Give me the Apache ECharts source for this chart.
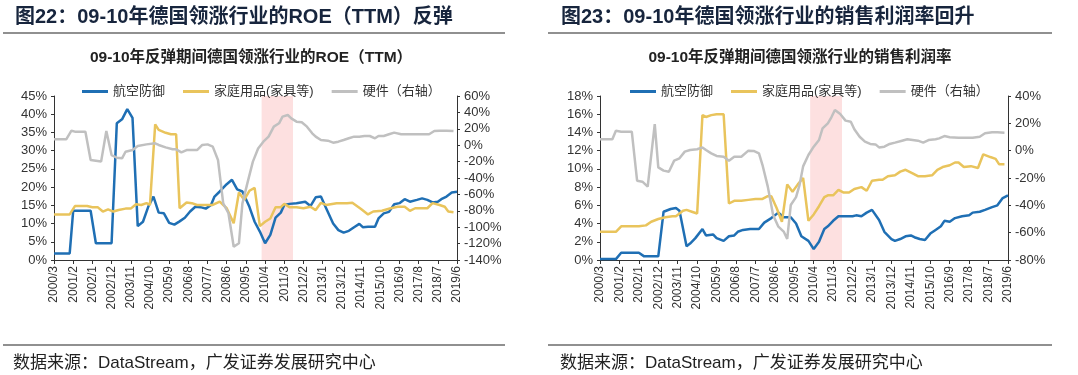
<!DOCTYPE html>
<html>
<head>
<meta charset="utf-8">
<script src="https://cdn.jsdelivr.net/npm/echarts@6/dist/echarts.min.js"></script>
<style>
  html, body { margin: 0; padding: 0; background: #fff; }
  #main { width: 1078px; height: 375px; }
</style>
</head>
<body>
<div id="main"></div>
<script>
// x positions are months counted from 2000/3 (0) to 2019/6 (231)
const tickLabels = ['2000/3','2001/2','2002/1','2002/12','2003/11','2004/10','2005/9','2006/8','2007/7','2008/6','2009/5',
  '2010/4','2011/3','2012/2','2013/1','2013/12','2014/11','2015/10','2016/9','2017/8','2018/7','2019/6'];
const seriesNames = ['航空防御', '家庭用品(家具等)', '硬件（右轴）'];
// rebound period shading, in months from 2000/3
const bandMonths = [119, 137];

// 图22: ROE (TTM)
const roeDefense = [[0,1.8],[9,1.8],[11,13.5],[21,13.5],[24,4.6],[33,4.6],[36,37.5],[39,38.6],[42,41.4],[45,39],[48,9.3],[51,10.5],
  [54,14.6],[57,17.4],[60,13],[63,12.8],[66,10.2],[69,9.7],[72,10.6],[75,11.6],[78,13.3],[81,14.6],[84,14.5],[87,14.1],[90,15.1],
  [92,17.4],[95,18.8],[99,20.8],[102,22],[105,19.4],[108,18.8],[112,14.6],[115,10.5],[118,7.8],[121,4.6],[124,6.9],[127,11.6],
  [130,13],[132,15.1],[135,15.4],[139,15.6],[144,16],[147,14.8],[150,17.2],[153,17.4],[156,14.2],[160,10],[163,8.2],[166,7.5],
  [169,8],[172,9],[175,9.9],[177,9],[180,9.1],[184,9.1],[186,11.4],[189,12.8],[192,13.2],[195,15.3],[198,15.6],[201,16.7],[204,16],
  [208,16.5],[211,16.9],[214,16.5],[217,15.8],[220,16],[222,16.7],[225,17.4],[228,18.5],[231,18.7]];
const roeHome = [[0,12.5],[9,12.5],[12,14.8],[19,14.8],[22,14.5],[25,14.5],[28,13.3],[31,13.9],[34,13.3],[37,13.7],[41,14.1],[44,14.1],
  [47,15.3],[50,15.1],[53,15.6],[55,15.1],[58,37.2],[60,35.7],[64,34.9],[67,34.5],[70,34.5],[72,14.2],[76,15.8],[79,15.6],[82,15.1],
  [87,15.1],[91,15.1],[95,16],[99,14.2],[103,10.1],[106,18.5],[109,16.5],[112,19],[115,19.8],[118,9.3],[121,10.5],[124,11.4],
  [127,14.5],[130,14.5],[132,15.4],[135,14.5],[139,14.5],[143,14.2],[147,14.6],[150,13.7],[153,15.7],[156,15.1],[162,15.6],
  [168,15.6],[171,15.7],[176,14],[180,12.5],[183,13.3],[188,13.5],[193,14.2],[197,14.6],[201,14.6],[204,13.5],[207,14.2],
  [214,14.2],[217,15.6],[221,15.1],[224,14.6],[226,13.3],[229,13.1]];
const roeHardware = [[0,7.2],[7,7.2],[10,17.7],[12,16.5],[18,16.5],[21,-18],[24,-19],[27,-20],[30,17.3],[33,-12],[36,-15.2],[39,-16],
  [41,-8],[45,-5.9],[48,-1],[53,1],[58,2.3],[60,0.3],[64,-2.6],[68,-5],[70,-5],[73,-8.7],[76,-5.9],[82,-5.9],[85,0.3],[88,1],
  [91,-1.7],[94,-18],[97,-70.9],[100,-83],[103,-123.8],[106,-119.6],[108,-71],[111,-45],[114,-20],[117,-4],[120,4.3],[123,10.4],
  [126,22.6],[129,26.7],[131,34.8],[134,36.8],[136,32.7],[139,28.7],[142,28],[145,22.6],[148,14.5],[150,10.4],[153,6.3],[157,5.5],
  [160,3.1],[163,4.3],[166,6.3],[169,8.4],[172,10.4],[175,10.4],[178,11.2],[181,11.2],[184,8.4],[186,11.2],[189,11.2],[192,13.3],
  [195,15.3],[199,13.3],[203,13.3],[207,13.3],[211,13.3],[215,13.3],[218,17.3],[221,17.7],[225,17.7],[229,17.3]];

// 图23: 销售利润率
const mgnDefense = [[0,0.1],[9,0.1],[12,0.8],[22,0.8],[25,0.4],[33,0.4],[36,5.3],[40,5.6],[43,5.7],[45,5.4],[49,1.5],[51,1.8],[54,2.4],
  [58,3.4],[60,2.7],[64,2.8],[66,2.4],[70,2.1],[73,2.6],[76,2.7],[78,3.1],[81,3.3],[85,3.4],[90,3.4],[93,4.1],[97,4.6],[101,5.2],
  [104,4.7],[108,4.7],[111,4.0],[114,2.6],[118,2.1],[121,1.2],[124,2.0],[127,3.4],[129,3.7],[132,4.3],[135,4.8],[139,4.8],[143,4.8],
  [145,4.9],[148,4.8],[151,5.2],[154,5.5],[158,4.4],[161,3.1],[165,2.3],[167,2.1],[170,2.3],[173,2.6],[176,2.7],[178,2.5],[181,2.3],
  [184,2.2],[187,2.9],[190,3.3],[193,3.7],[195,4.3],[198,4.2],[201,4.6],[205,4.8],[209,4.9],[211,5.2],[215,5.3],[218,5.5],[222,5.8],
  [225,6.0],[228,6.8],[231,7.1]];
const mgnHome = [[0,3.1],[9,3.1],[12,3.7],[22,3.7],[26,3.8],[29,4.2],[33,4.5],[37,4.7],[41,4.8],[43,4.8],[47,5.4],[49,5.5],[52,5.3],
  [55,5.1],[58,15.9],[60,15.7],[63,15.9],[66,16],[70,16],[73,6.2],[76,6.5],[80,6.5],[84,6.6],[88,6.7],[92,6.7],[95,7.0],[97,7.0],
  [100,5.7],[103,4.2],[106,8.3],[109,7.5],[112,8.3],[115,9.0],[118,4.3],[121,5.0],[124,5.9],[127,6.9],[129,7.1],[132,7.1],[135,7.7],
  [138,7.4],[141,7.4],[144,7.8],[148,8.0],[151,7.6],[154,8.7],[158,8.8],[160,8.8],[163,9.2],[167,9.3],[170,9.7],[173,9.9],[177,9.5],
  [180,9.2],[184,9.2],[188,9.3],[191,9.9],[194,10.2],[198,10.4],[201,10.7],[203,10.7],[206,10.2],[210,10.3],[214,10.1],[217,11.6],
  [221,11.3],[224,11.1],[226,10.5],[229,10.5]];
const mgnHardware = [[0,8.3],[7,8.3],[9,14.6],[12,13.9],[18,13.9],[21,-22],[24,-22.7],[27,-26.3],[31,19.5],[33,-12.2],[36,-14.6],
  [39,-15.4],[42,-7.3],[45,-5.6],[48,-0.7],[51,0.5],[55,1],[58,2.4],[60,0.5],[63,-2],[66,-3.9],[70,-4.4],[73,-7.3],[76,-4.4],[80,-4.4],
  [84,0],[87,-0.2],[90,-2],[92,-10.5],[95,-26.3],[98,-47],[101,-55.6],[104,-59.2],[106,-64.6],[108,-39.8],[111,-34],[113,-25],
  [115,-11.5],[118,-3.2],[121,2.9],[124,7.8],[126,16.3],[129,20],[131,24.4],[133,29.8],[136,26.8],[139,22],[142,21.2],[144,15.6],
  [147,10.2],[150,6.6],[153,4.9],[156,4.6],[158,2.4],[161,2.9],[164,4.9],[167,5.9],[171,7.3],[174,8.3],[177,7.8],[180,7.3],[183,5.9],
  [186,7.8],[190,8.3],[192,9],[195,10.7],[198,9.8],[203,9.5],[207,9.5],[211,9.5],[215,10.2],[218,12.7],[222,13.4],[225,13.4],[229,13.2]];

const FONT = "'Liberation Sans', 'Noto Sans CJK SC', sans-serif";
const colors = ['#1f6fb4', '#e9c45c', '#c0c0c0'];
const axisColor = '#333';

function xAxisFor(gridIndex) {
  return {
    type: 'value', gridIndex: gridIndex, min: 0, max: 231, interval: 11,
    axisLine: { show: true, lineStyle: { color: axisColor } },
    axisTick: { show: true, length: 4, lineStyle: { color: axisColor } },
    splitLine: { show: false },
    axisLabel: {
      rotate: 90, fontSize: 12, color: axisColor, fontFamily: FONT, margin: 6,
      formatter: function (v) { return tickLabels[Math.round(v / 11)] || ''; }
    }
  };
}

function yAxisFor(gridIndex, side, min, max, interval) {
  return {
    type: 'value', gridIndex: gridIndex, position: side, min: min, max: max, interval: interval,
    axisLine: { show: true, lineStyle: { color: axisColor } },
    axisTick: { show: true, length: 3, lineStyle: { color: axisColor } },
    splitLine: { show: false },
    axisLabel: { formatter: '{value}%', fontSize: 13, color: axisColor, fontFamily: FONT, margin: 7 }
  };
}

function line(name, data, color, xi, yi) {
  return {
    name: name, type: 'line', data: data, xAxisIndex: xi, yAxisIndex: yi,
    showSymbol: false, symbol: 'none', z: 3,
    lineStyle: { width: 2.5, color: color }, itemStyle: { color: color }
  };
}

function band(xi, yi) {
  return {
    type: 'line', data: [], xAxisIndex: xi, yAxisIndex: yi, z: 1, silent: true,
    markArea: {
      silent: true, itemStyle: { color: '#fde0e0' },
      data: [[{ xAxis: bandMonths[0] }, { xAxis: bandMonths[1] }]]
    }
  };
}

function legendAt(left) {
  return {
    data: seriesNames, left: left, top: 80, icon: 'rect', itemWidth: 26, itemHeight: 3, itemGap: 18,
    textStyle: { fontSize: 13, color: '#333', fontFamily: FONT }, selectedMode: false
  };
}

function txt(x, y, text, font, fill, align) {
  return { type: 'text', x: x, y: y, style: { text: text, font: font, fill: fill, align: align || 'left', verticalAlign: 'middle' } };
}

function rule(x1, x2, y) {
  return { type: 'line', shape: { x1: x1, y1: y, x2: x2, y2: y }, style: { stroke: '#222', lineWidth: 1.2 } };
}

const chart = echarts.init(document.getElementById('main'));
chart.setOption({
  animation: false,
  backgroundColor: '#fff',
  grid: [
    { left: 54, top: 96, width: 403, height: 164 },
    { left: 600, top: 96, width: 408, height: 164 }
  ],
  legend: [legendAt(77), legendAt(625)],
  xAxis: [xAxisFor(0), xAxisFor(1)],
  yAxis: [
    yAxisFor(0, 'left', 0, 45, 5),
    yAxisFor(0, 'right', -140, 60, 20),
    yAxisFor(1, 'left', 0, 18, 2),
    yAxisFor(1, 'right', -80, 40, 20)
  ],
  series: [
    band(0, 0),
    band(1, 2),
    line(seriesNames[0], roeDefense, colors[0], 0, 0),
    line(seriesNames[1], roeHome, colors[1], 0, 0),
    line(seriesNames[2], roeHardware, colors[2], 0, 1),
    line(seriesNames[0], mgnDefense, colors[0], 1, 2),
    line(seriesNames[1], mgnHome, colors[1], 1, 2),
    line(seriesNames[2], mgnHardware, colors[2], 1, 3)
  ],
  graphic: [
    txt(15, 17, '图22：09-10年德国领涨行业的ROE（TTM）反弹', 'bold 20px ' + FONT, '#17253d'),
    txt(561, 17, '图23：09-10年德国领涨行业的销售利润率回升', 'bold 20px ' + FONT, '#17253d'),
    rule(3, 505, 33),
    rule(548, 1052, 33),
    txt(251, 58, '09-10年反弹期间德国领涨行业的ROE（TTM）', 'bold 15.5px ' + FONT, '#222', 'center'),
    txt(800, 58, '09-10年反弹期间德国领涨行业的销售利润率', 'bold 15.5px ' + FONT, '#222', 'center'),
    rule(3, 505, 345),
    rule(548, 1052, 345),
    txt(13, 363, '数据来源：DataStream，广发证券发展研究中心', '17px ' + FONT, '#222'),
    txt(560, 363, '数据来源：DataStream，广发证券发展研究中心', '17px ' + FONT, '#222')
  ]
});
</script>
</body>
</html>
